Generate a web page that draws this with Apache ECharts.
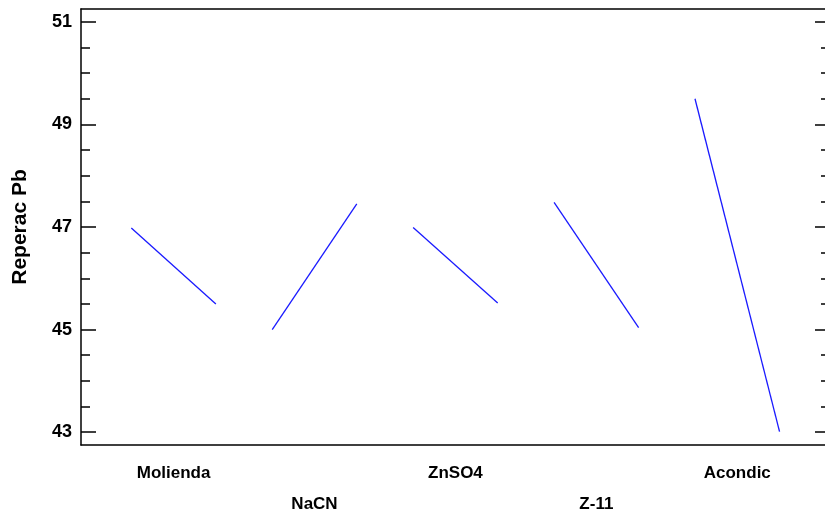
<!DOCTYPE html>
<html>
<head>
<meta charset="utf-8">
<script src="https://cdn.jsdelivr.net/npm/echarts@6/dist/echarts.min.js"></script>
<style>
html,body{margin:0;padding:0;background:#fff;}
#chart{width:825px;height:515px;}
</style>
</head>
<body>
<div id="chart"></div>
<script>
// Factors (main effects plot), low and high level means of "Reperac Pb"
const factors = ['Molienda', 'NaCN', 'ZnSO4', 'Z-11', 'Acondic'];
const lowMeans = [46.98, 45.00, 46.99, 47.48, 49.50];
const highMeans = [45.50, 47.45, 45.52, 45.04, 43.01];
// level positions on the hidden x scale
const lowPos = [0, 5, 10, 15, 20];
const highPos = [3, 8, 13, 18, 23];
const labelPos = [1.5, 6.5, 11.5, 16.5, 21.5];
// y ticks
const majorTicks = [43, 45, 47, 49, 51];
const minorTicks = [43.5, 44, 44.5, 45.5, 46, 46.5, 47.5, 48, 48.5, 49.5, 50, 50.5];

const narrow = "'Liberation Sans Narrow', 'Arial Narrow', 'Liberation Sans', sans-serif";
const yMin = 42.75, yMax = 51.25;

function yAx(pos, ticks, len, showLabel, showLine, name) {
  return {
    type: 'value', position: pos, min: yMin, max: yMax,
    name: name || '', nameLocation: 'middle', nameGap: 50,
    nameTextStyle: { fontFamily: "'Liberation Sans', Arial, sans-serif", fontWeight: 'bold', fontSize: 21, color: '#000' },
    axisLine: { show: showLine, onZero: false, lineStyle: { color: '#000', width: 1.5 } },
    axisTick: { show: true, inside: true, length: len, customValues: ticks, lineStyle: { color: '#000', width: 1.5 } },
    axisLabel: showLabel ? { show: true, customValues: ticks, margin: 9, fontFamily: narrow, fontWeight: 'bold', fontSize: 18, color: '#000' } : { show: false },
    splitLine: { show: false }
  };
}

const chart = echarts.init(document.getElementById('chart'), null, { renderer: 'canvas' });
const series = factors.map((f, i) => ({
  type: 'line', name: f, xAxisIndex: 0, yAxisIndex: 0,
  data: [[lowPos[i], lowMeans[i]], [highPos[i], highMeans[i]]],
  symbol: 'none', silent: true, animation: false,
  lineStyle: { color: '#1a1aff', width: 1.3 }
}));

chart.setOption({
  animation: false,
  backgroundColor: '#fff',
  grid: { left: 81, right: -5, top: 9, bottom: 70, containLabel: false, outerBoundsMode: 'none' },
  xAxis: [
    {
      type: 'value', position: 'bottom', min: -1.785, max: 24.79,
      axisLine: { show: true, onZero: false, lineStyle: { color: '#000', width: 1.5 } },
      axisTick: { show: false },
      splitLine: { show: false },
      axisLabel: {
        show: true, customValues: labelPos, margin: 13, verticalAlign: 'top',
        formatter: function (v) {
          const i = labelPos.indexOf(v);
          if (i < 0) return '';
          return (i % 2 === 0 ? '' : '\n') + factors[i];
        },
        fontFamily: narrow, fontWeight: 'bold', fontSize: 17, color: '#000', lineHeight: 31
      }
    },
    {
      type: 'value', position: 'top', min: -1.785, max: 24.79,
      axisLine: { show: true, onZero: false, lineStyle: { color: '#000', width: 1.5 } },
      axisTick: { show: false }, axisLabel: { show: false }, splitLine: { show: false }
    }
  ],
  yAxis: [
    yAx('left', majorTicks, 15, true, true, 'Reperac Pb'),
    yAx('left', minorTicks, 9, false, false),
    yAx('right', majorTicks, 15, false, true),
    yAx('right', minorTicks, 9, false, false)
  ],
  series: series
});
</script>
</body>
</html>
